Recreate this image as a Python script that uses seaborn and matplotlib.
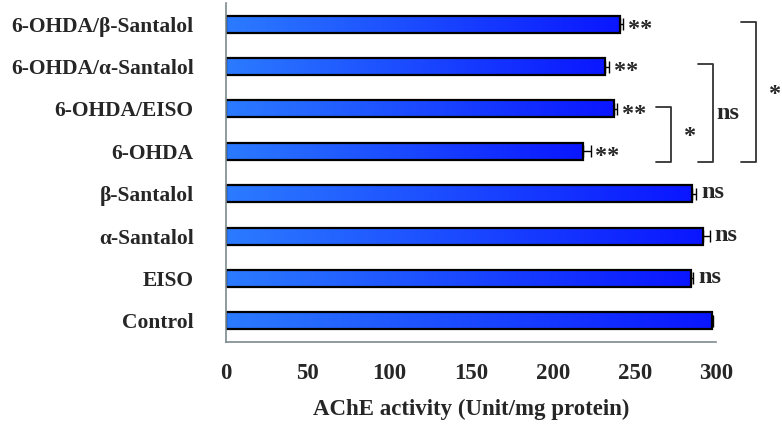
import numpy as np
import pandas as pd
import matplotlib
matplotlib.use("Agg")
import matplotlib.pyplot as plt
from matplotlib.colors import LinearSegmentedColormap
import seaborn as sns

# groups listed top to bottom
groups = ["6-OHDA/\u03b2-Santalol", "6-OHDA/\u03b1-Santalol", "6-OHDA/EISO", "6-OHDA",
          "\u03b2-Santalol", "\u03b1-Santalol", "EISO", "Control"]
activity = [241, 232, 237.5, 218.5, 285, 291.5, 284.5, 297]
sem = [2, 2.5, 2, 4.5, 2.7, 4.5, 1.2, 1]
marks = ["**", "**", "**", "**", "ns", "ns", "ns", ""]

# comparisons between bars: (first, last, label)
brackets = [(2, 3, "*"), (1, 3, "ns"), (0, 3, "*")]
bracket_x = [272, 298, 324]

df = pd.DataFrame({"group": groups, "activity": activity})

sns.set_style("white")
plt.rcParams["font.family"] = ["Liberation Serif", "DejaVu Serif"]
plt.rcParams["font.weight"] = "bold"
fs = 16.5
axcol = "#7d8a90"

fig = plt.figure(figsize=(7.82, 4.25), dpi=100)
ax = fig.add_axes([0.2886, 0.1953, 0.9162 - 0.2886, 0.993 - 0.1953])

sns.barplot(data=df, x="activity", y="group", order=groups, color="#1040ff",
            width=0.4, edgecolor="black", linewidth=1.6, errorbar=None, ax=ax)

# left-to-right blue gradient inside each bar
cmap = LinearSegmentedColormap.from_list("bluegrad", ["#2b7bff", "#0a16ff"])
grad = np.linspace(0, 1, 256).reshape(1, -1)
for p in ax.patches:
    x0, y0 = p.get_x(), p.get_y()
    w, h = p.get_width(), p.get_height()
    im = ax.imshow(grad, cmap=cmap, aspect="auto", extent=[x0, x0 + w, y0 + h, y0],
                   zorder=p.get_zorder() - 0.1, interpolation="bilinear")
    im.set_clip_path(p)
    p.set_facecolor("none")

ypos = np.arange(len(groups))
ax.errorbar(activity, ypos, xerr=[np.zeros(len(sem)), sem], fmt="none",
            ecolor="black", elinewidth=1.0, capsize=4, capthick=1.0, zorder=5)

for i, (v, e, m) in enumerate(zip(activity, sem, marks)):
    if m:
        dy = 0.12 if m == "**" else -0.02
        ax.text(v + e + 3, i + dy, m, fontsize=fs + 1, fontweight="bold",
                va="center", ha="left", clip_on=False)

for (a, b, lab), bx in zip(brackets, bracket_x):
    ya, yb = a - 0.05, b + 0.25
    ax.plot([bx - 9, bx, bx, bx - 9], [ya, ya, yb, yb], color="#333333",
            lw=1.3, clip_on=False, solid_joinstyle="round")
    yc = (ya + yb) / 2
    if lab == "*":
        ax.text(bx + 8, yc + 0.05, lab, fontsize=fs + 1, fontweight="bold",
                va="center", ha="left", clip_on=False)
    else:
        ax.text(bx + 2, yc, lab, fontsize=fs + 1, fontweight="bold",
                va="center", ha="left", clip_on=False)

ax.set_xlim(0, 300)
ax.set_ylim(len(groups) - 0.5, -0.5)
ax.set_xticks([0, 50, 100, 150, 200, 250, 300])
ax.set_yticks(ypos)
ax.set_yticks(np.arange(-0.5, len(groups)), minor=True)
ax.tick_params(axis="y", which="major", length=0, pad=23, labelsize=15.5)
ax.tick_params(axis="y", which="minor", length=5, color=axcol, direction="out")
ax.tick_params(axis="x", length=5, color=axcol, direction="out", pad=10, labelsize=fs)
for lbl in ax.get_xticklabels() + ax.get_yticklabels():
    lbl.set_fontweight("bold")

sns.despine(ax=ax)
for s in ["left", "bottom"]:
    ax.spines[s].set_color(axcol)
    ax.spines[s].set_linewidth(1.2)

ax.set_ylabel("")
ax.set_xlabel("AChE activity (Unit/mg protein)", fontsize=fs, fontweight="bold", labelpad=11)

fig.savefig("out.png", dpi=100)
